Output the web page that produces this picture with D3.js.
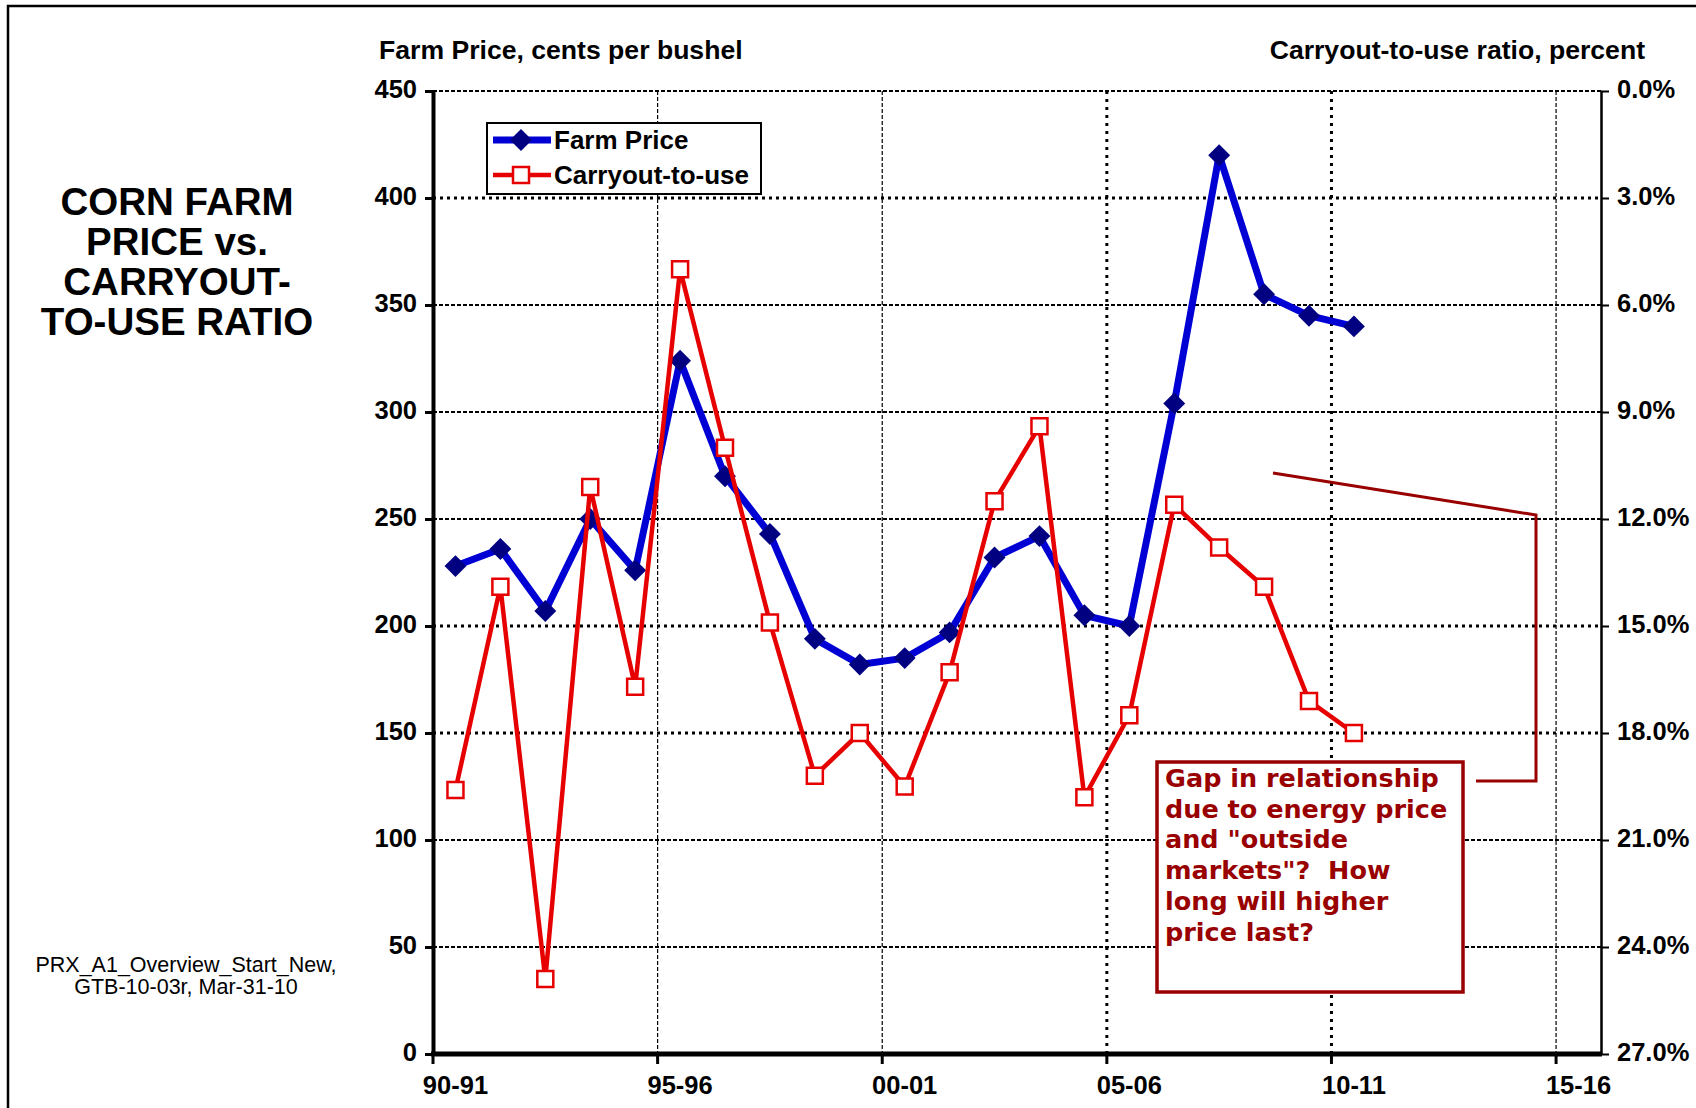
<!DOCTYPE html>
<html>
<head>
<meta charset="utf-8">
<script src="https://cdn.jsdelivr.net/npm/d3@7"></script>
<style>
  body { margin:0; background:#fff; }
  svg { display:block; font-family: Arial, "Liberation Sans", sans-serif; }
</style>
</head>
<body>
<svg id="drawing_region"></svg>
<script>
// marketing years on the category axis
const seasons = ["90-91","91-92","92-93","93-94","94-95","95-96","96-97","97-98","98-99","99-00",
                 "00-01","01-02","02-03","03-04","04-05","05-06","06-07","07-08","08-09","09-10",
                 "10-11","11-12","12-13","13-14","14-15","15-16"];
const seasonLabels = ["90-91","95-96","00-01","05-06","10-11","15-16"];

// farm price, cents per bushel
const farmPrice = [228, 236, 207, 250, 226, 324, 270, 243, 194, 182,
                   185, 197, 232, 242, 205, 200, 304, 420, 355, 345, 340];
// carryout-to-use ratio, percent (right axis, inverted)
const carryoutRatio = [19.6, 13.9, 24.9, 11.1, 16.7, 5.0, 10.0, 14.9, 19.2, 18.0,
                       19.5, 16.3, 11.5, 9.4, 19.8, 17.5, 11.6, 12.8, 13.9, 17.1, 18.0];

const priceTicks = [0, 50, 100, 150, 200, 250, 300, 350, 400, 450];
const ratioTicks = [0, 3, 6, 9, 12, 15, 18, 21, 24, 27];

const titleLines = ["CORN FARM", "PRICE vs.", "CARRYOUT-", "TO-USE RATIO"];
const noteLines = ["PRX_A1_Overview_Start_New,", "GTB-10-03r, Mar-31-10"];
const calloutLines = ["Gap in relationship", "due to energy price", "and \"outside",
                      "markets\"?  How", "long will higher", "price last?"];

var config = {
    parent: '#drawing_region',
    width: 1696,
    height: 1108,
    margin: {top:91, right:95, bottom:54, left:433}
};

class DualAxisChart {

    constructor( config ) {
        this.config = config;
        this.init();
    }

    init() {
        let self = this;

        self.svg = d3.select( self.config.parent )
            .attr('width', self.config.width)
            .attr('height', self.config.height);

        self.inner_width = self.config.width - self.config.margin.left - self.config.margin.right;
        self.inner_height = self.config.height - self.config.margin.top - self.config.margin.bottom;

        self.chart = self.svg.append('g')
            .attr('transform', `translate(${self.config.margin.left}, ${self.config.margin.top})`);

        self.xscale = d3.scaleBand()
            .domain( seasons )
            .range( [0, self.inner_width] )
            .padding(0);

        self.yscale = d3.scaleLinear()
            .domain( [0, 450] )
            .range( [self.inner_height, 0] );

        self.rscale = d3.scaleLinear()
            .domain( [0, 27] )
            .range( [0, self.inner_height] );
    }

    cx( i ) {
        return this.xscale( seasons[i] ) + this.xscale.bandwidth()/2;
    }

    render() {
        let self = this;

        // outer frame
        self.svg.append('rect')
            .attr('x', 8).attr('y', 6)
            .attr('width', 1720).attr('height', 1130)
            .attr('fill', 'none')
            .attr('stroke', '#000')
            .attr('stroke-width', 2.5);

        // horizontal grid
        const heavyH = [400, 200, 150];
        self.chart.append('g')
            .selectAll('line')
            .data( priceTicks.filter(d => d > 0) )
            .enter()
            .append('line')
            .attr('x1', 0).attr('x2', self.inner_width)
            .attr('y1', d => self.yscale(d)).attr('y2', d => self.yscale(d))
            .attr('stroke', '#000')
            .attr('stroke-width', d => heavyH.includes(d) ? 3 : 2)
            .attr('stroke-dasharray', d => heavyH.includes(d) ? '3,4' : '4,2');

        // vertical grid
        const heavyV = ["05-06", "10-11"];
        self.chart.append('g')
            .selectAll('line')
            .data( seasonLabels.slice(1) )
            .enter()
            .append('line')
            .attr('x1', d => self.xscale(d)).attr('x2', d => self.xscale(d))
            .attr('y1', 0).attr('y2', self.inner_height)
            .attr('stroke', '#000')
            .attr('stroke-width', d => heavyV.includes(d) ? 3 : 1.2)
            .attr('stroke-dasharray', d => heavyV.includes(d) ? '3,5' : '4,2');

        // left axis
        const yaxis = d3.axisLeft( self.yscale )
            .tickValues( priceTicks )
            .tickSize(8)
            .tickSizeOuter(0)
            .tickPadding(8);
        const yg = self.chart.append('g').call( yaxis );
        yg.select('.domain').attr('stroke-width', 4);
        yg.selectAll('.tick line').attr('stroke-width', 3);
        yg.selectAll('text')
            .attr('dy', '0.26em')
            .attr('font-size', 25.5)
            .attr('font-weight', 'bold')
            .attr('fill', '#000');

        // right axis
        const raxis = d3.axisRight( self.rscale )
            .tickValues( ratioTicks )
            .tickFormat( d => d.toFixed(1) + '%' )
            .tickSize(8)
            .tickSizeOuter(0)
            .tickPadding(8);
        const rg = self.chart.append('g')
            .attr('transform', `translate(${self.inner_width}, 0)`)
            .call( raxis );
        rg.select('.domain').attr('stroke-width', 2.5);
        rg.selectAll('.tick line').attr('stroke-width', 2);
        rg.selectAll('text')
            .attr('dy', '0.26em')
            .attr('font-size', 25.5)
            .attr('font-weight', 'bold')
            .attr('fill', '#000');

        // bottom axis: labels centred on the category, ticks on the category edge
        const xaxis = d3.axisBottom( self.xscale )
            .tickValues( seasonLabels )
            .tickSize(0)
            .tickPadding(22);
        const xg = self.chart.append('g')
            .attr('transform', `translate(0, ${self.inner_height})`)
            .call( xaxis );
        xg.select('.domain').remove();
        xg.selectAll('text')
            .attr('font-size', 25.5)
            .attr('font-weight', 'bold')
            .attr('fill', '#000');
        xg.append('g')
            .selectAll('line')
            .data( seasonLabels )
            .enter()
            .append('line')
            .attr('x1', d => self.xscale(d)).attr('x2', d => self.xscale(d))
            .attr('y1', 0).attr('y2', 10)
            .attr('stroke', '#000')
            .attr('stroke-width', 3);
        xg.append('line')
            .attr('x1', -2).attr('x2', self.inner_width + 1)
            .attr('y1', 0).attr('y2', 0)
            .attr('stroke', '#000')
            .attr('stroke-width', 5);

        // farm price line
        const priceLine = d3.line()
            .x( (d, i) => self.cx(i) )
            .y( d => self.yscale(d) );
        self.chart.append('path')
            .datum( farmPrice )
            .attr('d', priceLine)
            .attr('fill', 'none')
            .attr('stroke', '#0000d4')
            .attr('stroke-width', 7)
            .attr('stroke-linejoin', 'round');
        self.chart.append('g')
            .selectAll('path')
            .data( farmPrice )
            .enter()
            .append('path')
            .attr('d', d3.symbol().type(d3.symbolSquare).size(240))
            .attr('transform', (d, i) => `translate(${self.cx(i)}, ${self.yscale(d)}) rotate(45)`)
            .attr('fill', '#000080');

        // carryout-to-use line
        const ratioLine = d3.line()
            .x( (d, i) => self.cx(i) )
            .y( d => self.rscale(d) );
        self.chart.append('path')
            .datum( carryoutRatio )
            .attr('d', ratioLine)
            .attr('fill', 'none')
            .attr('stroke', '#e60000')
            .attr('stroke-width', 4.5)
            .attr('stroke-linejoin', 'round');
        self.chart.append('g')
            .selectAll('path')
            .data( carryoutRatio )
            .enter()
            .append('path')
            .attr('d', d3.symbol().type(d3.symbolSquare).size(256))
            .attr('transform', (d, i) => `translate(${self.cx(i)}, ${self.rscale(d)})`)
            .attr('fill', '#fff')
            .attr('stroke', '#e60000')
            .attr('stroke-width', 2.5);

        // axis titles
        self.svg.append('text')
            .attr('x', 379).attr('y', 59)
            .attr('font-size', 26.6).attr('font-weight', 'bold')
            .text('Farm Price, cents per bushel');
        self.svg.append('text')
            .attr('x', 1645).attr('y', 59)
            .attr('text-anchor', 'end')
            .attr('font-size', 26.6).attr('font-weight', 'bold')
            .text('Carryout-to-use ratio, percent');

        // chart title
        self.svg.append('g')
            .selectAll('text')
            .data( titleLines )
            .enter()
            .append('text')
            .attr('x', 177)
            .attr('y', (d, i) => 215 + i*40)
            .attr('text-anchor', 'middle')
            .attr('font-size', 38.5)
            .attr('font-weight', 'bold')
            .text( d => d );

        // file note
        self.svg.append('g')
            .selectAll('text')
            .data( noteLines )
            .enter()
            .append('text')
            .attr('x', 186)
            .attr('y', (d, i) => 972 + i*22)
            .attr('text-anchor', 'middle')
            .attr('font-size', 21.5)
            .text( d => d );

        // legend
        const lg = self.svg.append('g');
        lg.append('rect')
            .attr('x', 487).attr('y', 123)
            .attr('width', 274).attr('height', 71)
            .attr('fill', '#fff')
            .attr('stroke', '#000')
            .attr('stroke-width', 2);
        lg.append('line')
            .attr('x1', 493).attr('x2', 551).attr('y1', 140).attr('y2', 140)
            .attr('stroke', '#0000d4').attr('stroke-width', 7);
        lg.append('path')
            .attr('d', d3.symbol().type(d3.symbolSquare).size(240))
            .attr('transform', 'translate(521, 140) rotate(45)')
            .attr('fill', '#000080');
        lg.append('line')
            .attr('x1', 493).attr('x2', 551).attr('y1', 175).attr('y2', 175)
            .attr('stroke', '#e60000').attr('stroke-width', 4.5);
        lg.append('path')
            .attr('d', d3.symbol().type(d3.symbolSquare).size(256))
            .attr('transform', 'translate(521, 175)')
            .attr('fill', '#fff')
            .attr('stroke', '#e60000')
            .attr('stroke-width', 2.5);
        lg.append('text')
            .attr('x', 554).attr('y', 149)
            .attr('font-size', 26).attr('font-weight', 'bold')
            .text('Farm Price');
        lg.append('text')
            .attr('x', 554).attr('y', 184)
            .attr('font-size', 26).attr('font-weight', 'bold')
            .text('Carryout-to-use');

        // callout
        const co = self.svg.append('g');
        co.append('path')
            .attr('d', 'M1273,473 L1536,515 L1536,781 L1476,781')
            .attr('fill', 'none')
            .attr('stroke', '#990000')
            .attr('stroke-width', 3);
        co.append('rect')
            .attr('x', 1157).attr('y', 762)
            .attr('width', 306).attr('height', 230)
            .attr('fill', '#fff')
            .attr('stroke', '#990000')
            .attr('stroke-width', 3.5);
        co.selectAll('text.callout')
            .data( calloutLines )
            .enter()
            .append('text')
            .attr('class', 'callout')
            .attr('x', 1165)
            .attr('y', (d, i) => 787 + i*30.7)
            .attr('font-family', '"DejaVu Sans", Verdana, sans-serif')
            .attr('font-size', 25.5)
            .attr('font-weight', 'bold')
            .attr('fill', '#990000')
            .attr('xml:space', 'preserve')
            .style('white-space', 'pre')
            .text( d => d );
    }
}

const chart = new DualAxisChart( config );
chart.render();
</script>
</body>
</html>
